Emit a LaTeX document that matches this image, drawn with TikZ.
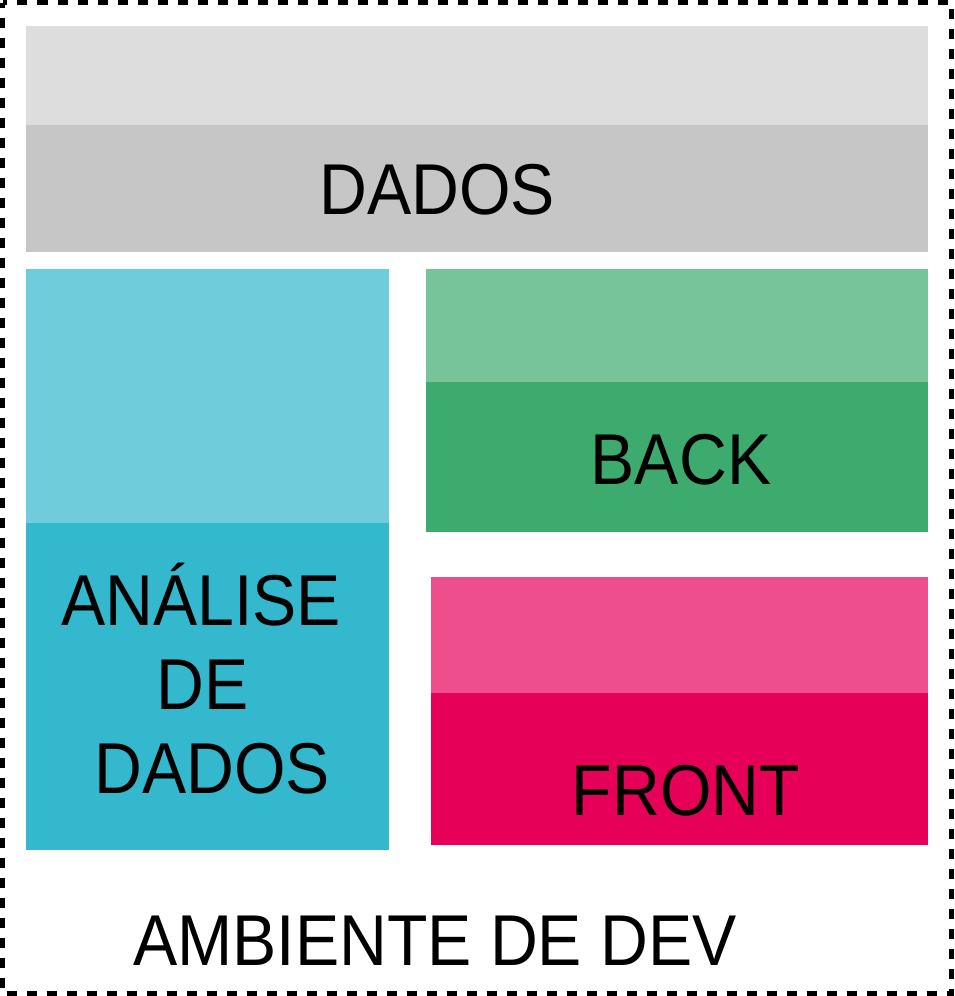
\documentclass[tikz,border=0pt]{standalone}
\usepackage{fontspec}
\setmainfont[FakeStretch=0.92]{Liberation Sans}
\definecolor{graylt}{HTML}{DDDDDD}
\definecolor{graydk}{HTML}{C6C6C6}
\definecolor{cyanlt}{HTML}{6FCCDB}
\definecolor{cyandk}{HTML}{33B8CE}
\definecolor{greenlt}{HTML}{77C49A}
\definecolor{greendk}{HTML}{3DAA6E}
\definecolor{pinklt}{HTML}{EE4E8C}
\definecolor{pinkdk}{HTML}{E60057}
\begin{document}
\begin{tikzpicture}[x=1pt,y=-1pt,
  lbl/.style={anchor=base,inner sep=0pt,font=\fontsize{72}{84}\selectfont,text=black},
  border/.style={draw=black,line width=5pt,dash pattern=on 10pt off 10pt,dash phase=5pt}]
\fill[white] (0,0) rectangle (954,996);
\useasboundingbox (0,0) rectangle (954,996);
\draw[border] (2.5,2.5) rectangle (951.5,993.5);
% DADOS
\fill[graylt] (26,26) rectangle (928,125);
\fill[graydk] (26,125) rectangle (928,252);
% Analise
\fill[cyanlt] (26,269) rectangle (389,523);
\fill[cyandk] (26,523) rectangle (389,850);
% Back
\fill[greenlt] (426,269) rectangle (928,382);
\fill[greendk] (426,382) rectangle (928,532);
% Front
\fill[pinklt] (431,577) rectangle (928,693);
\fill[pinkdk] (431,693) rectangle (928,845);
% labels
\node[lbl] (dados) at (437,214) {DADOS};
\node[lbl] (back) at (681,484) {BACK};
\node[lbl] (front) at (686,815) {FRONT};
\node[lbl] (an1) at (201,625) {ANÁLISE};
\node[lbl] (an2) at (203,709) {DE};
\node[lbl] (an3) at (212,793) {DADOS};
\node[lbl] (amb) at (435,965) {AMBIENTE DE DEV};
\end{tikzpicture}
\end{document}
